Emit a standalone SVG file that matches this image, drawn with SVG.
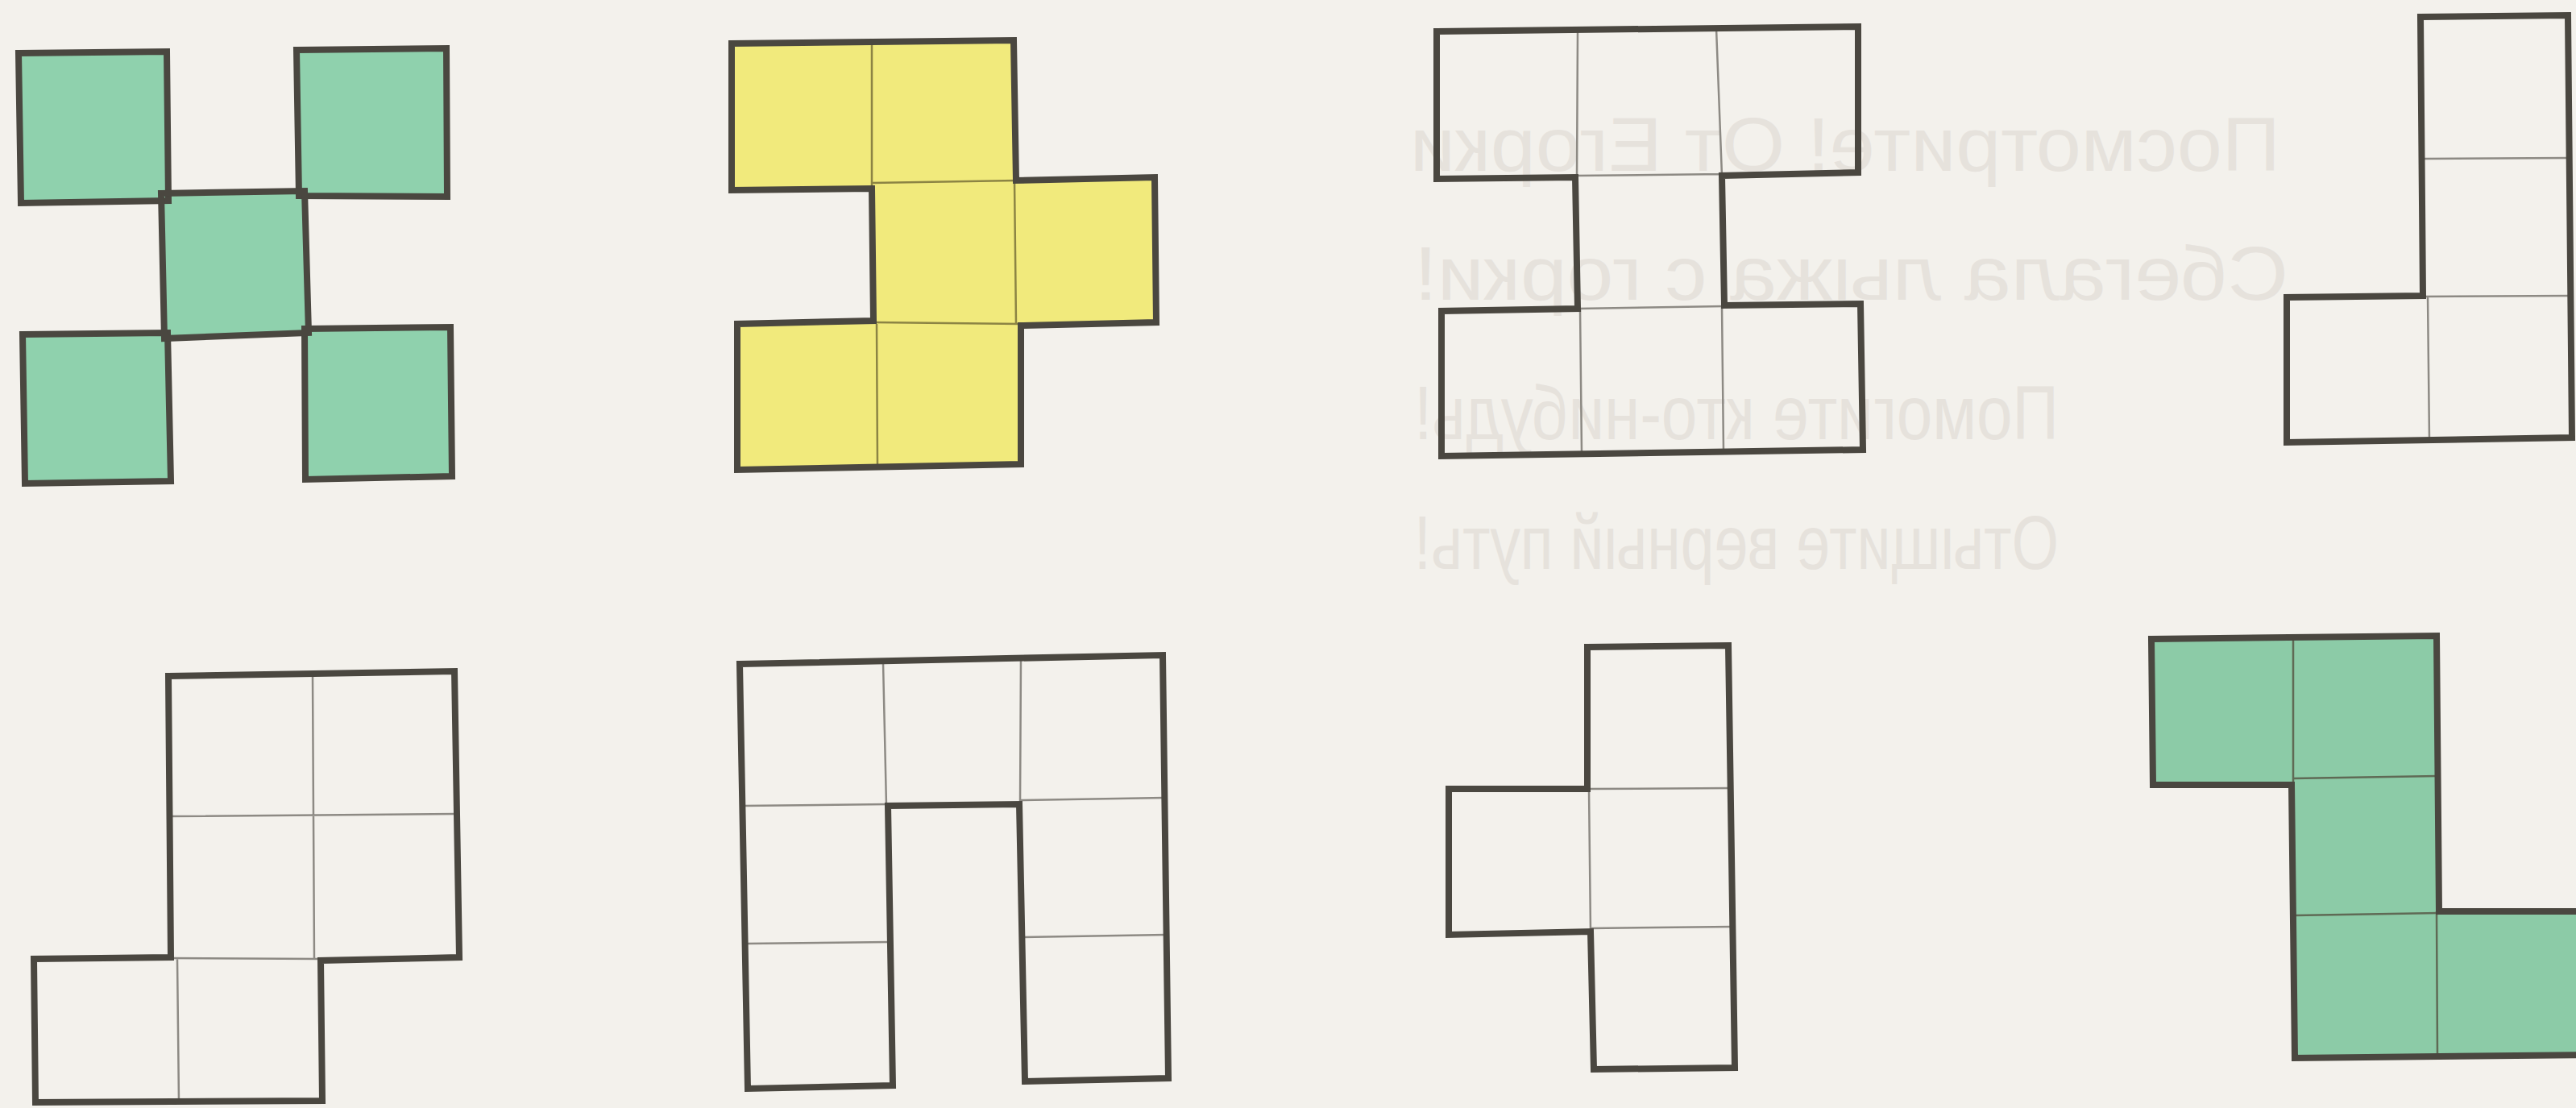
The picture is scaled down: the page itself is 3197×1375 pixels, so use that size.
<svg xmlns="http://www.w3.org/2000/svg" width="3197" height="1375" viewBox="0 0 3197 1375">
<style>
.out{fill:none;stroke:#4a4740;stroke-width:8;stroke-linejoin:miter}
.in{stroke:#8d8a84;stroke-width:2.5;fill:none}
.inc{stroke:#5f6a55;stroke-width:2.5;fill:none}
.iny{stroke:#8c8444;stroke-width:2.5;fill:none}
.green{fill:#8fd1ad}
.green2{fill:#8ccba7}
.yellow{fill:#f1ea7c}
.ghost{font-family:"Liberation Sans","DejaVu Sans",sans-serif;font-size:95px;fill:#e6e2dc}
</style>
<rect x="0" y="0" width="3197" height="1375" fill="#f3f1ec"/>
<g id="show-through">
<text class="ghost" x="-2830" y="212" transform="scale(-1,1)" textLength="1080" lengthAdjust="spacingAndGlyphs">Посмотрите! От Егорки</text>
<text class="ghost" x="-2840" y="372" transform="scale(-1,1)" textLength="1085" lengthAdjust="spacingAndGlyphs">Сбегала лыжа с горки!</text>
<text class="ghost" x="-2555" y="545" transform="scale(-1,1)" textLength="800" lengthAdjust="spacingAndGlyphs">Помогите кто-нибудь!</text>
<text class="ghost" x="-2555" y="706" transform="scale(-1,1)" textLength="800" lengthAdjust="spacingAndGlyphs">Отыщите верный путь!</text>
</g>
<g id="shape-x-green">
<polygon class="green" points="23,66 207,64 209,249 26,252"/>
<polygon class="green" points="368,62 554,60 555,244 371,243"/>
<polygon class="green" points="28,415 208,413 212,597 31,600"/>
<polygon class="green" points="378,408 559,406 561,591 379,595"/>
<polygon class="green" points="200,240 378,237 383,413 204,420"/>
<polygon class="out" points="23,66 207,64 209,249 26,252"/>
<polygon class="out" points="368,62 554,60 555,244 371,243"/>
<polygon class="out" points="28,415 208,413 212,597 31,600"/>
<polygon class="out" points="378,408 559,406 561,591 379,595"/>
<polygon class="out" points="200,240 378,237 383,413 204,420"/>
</g>
<g id="shape-yellow">
<polygon class="yellow" points="908,54 1258,50 1261,224 1433,220 1435,400 1267,404 1267,576 915,583 915,402 1084,398 1082,234 908,236"/>
<path class="iny" d="M1082,54 L1082,234 M1082,227 L1261,224 M1259,224 L1261,402 M1084,400 L1267,402 M1088,402 L1089,578"/>
<polygon class="out" points="908,54 1258,50 1261,224 1433,220 1435,400 1267,404 1267,576 915,583 915,402 1084,398 1082,234 908,236"/>
</g>
<g id="shape-i">
<path class="in" d="M1958,38 L1957,220 M2130,35 L2137,218 M1955,218 L2137,216 M1958,383 L2140,380 M1961,383 L1963,563 M2137,380 L2139,560"/>
<polygon class="out" points="1783,39 2306,33 2306,214 2137,218 2140,379 2309,377 2312,558 1789,566 1789,386 1958,383 1955,220 1783,222"/>
</g>
<g id="shape-l">
<path class="in" d="M3008,197 L3188,196 M3007,368 L3190,367 M3013,368 L3015,547"/>
<polygon class="out" points="3004,21 3187,19 3192,543 2838,549 2838,369 3007,367"/>
</g>
<g id="shape-p">
<path class="in" d="M388,839 L390,1190 M212,1013 L566,1010 M212,1189 L398,1190 M220,1190 L222,1368"/>
<polygon class="out" points="209,839 564,833 570,1188 398,1192 400,1366 44,1368 42,1190 212,1188"/>
</g>
<g id="shape-arch">
<path class="in" d="M1096,822 L1100,1000 M1267,816 L1266,998 M922,1000 L1102,998 M1267,993 L1445,990 M926,1171 L1104,1169 M1270,1163 L1447,1160"/>
<polygon class="out" points="918,824 1443,813 1450,1338 1272,1342 1265,998 1102,1000 1108,1347 928,1351"/>
</g>
<g id="shape-t">
<path class="in" d="M1970,979 L2148,978 M1974,1152 L2150,1150 M1972,979 L1974,1156"/>
<polygon class="out" points="1970,803 2145,801 2153,1325 1978,1327 1974,1156 1798,1160 1798,979 1970,979"/>
</g>
<g id="shape-s-green">
<polygon class="green2" points="2670,793 3024,789 3027,1131 3210,1131 3210,1309 2848,1313 2844,974 2672,974"/>
<path class="inc" d="M2846,793 L2846,974 M2846,966 L3025,963 M2848,1136 L3027,1133 M3024,1131 L3025,1310"/>
<polygon class="out" points="2670,793 3024,789 3027,1131 3210,1131 3210,1309 2848,1313 2844,974 2672,974"/>
</g>
</svg>
